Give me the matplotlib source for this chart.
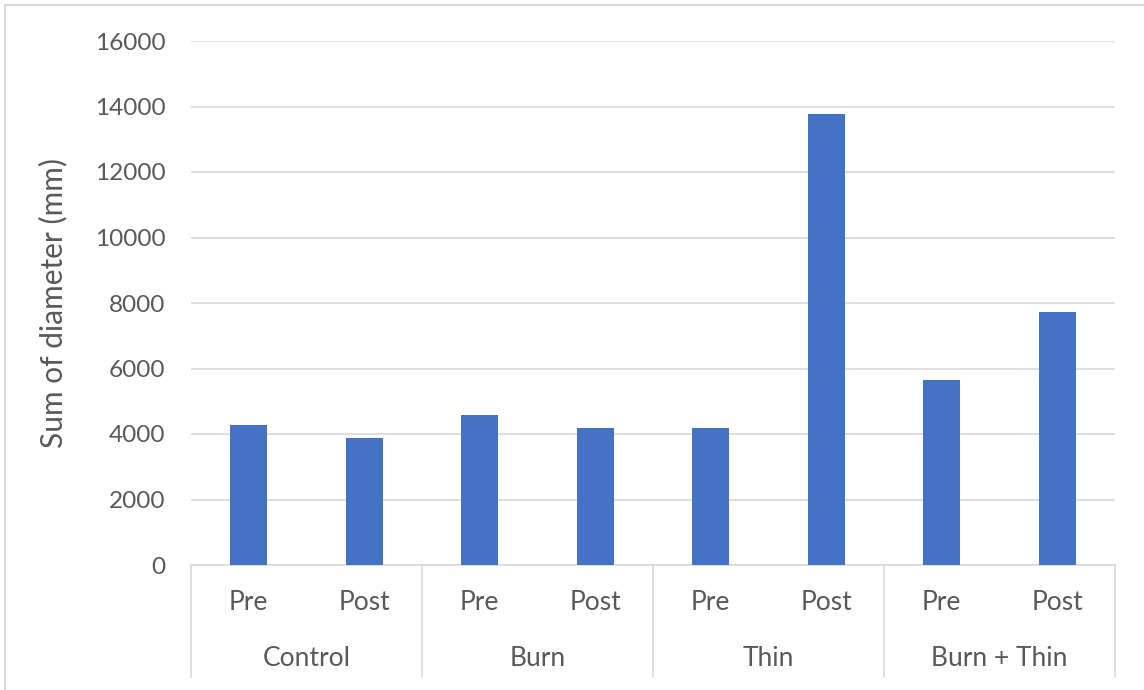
import matplotlib
matplotlib.use("Agg")
import matplotlib.pyplot as plt
from matplotlib.lines import Line2D
import matplotlib.transforms as mtransforms

# Sum of stem diameters by treatment and sampling period
treatments = ["Control", "Burn", "Thin", "Burn + Thin"]
periods = ["Pre", "Post"]
values = [4290, 3890, 4570, 4170, 4170, 13760, 5650, 7740]
y_ticks = [0, 2000, 4000, 6000, 8000, 10000, 12000, 14000, 16000]

BAR_COLOR = "#4472C4"
TEXT_COLOR = "#595959"
GRID_COLOR = "#D9D9D9"

plt.rcParams["font.family"] = ["Lato", "DejaVu Sans"]

W, H = 1144, 690
fig = plt.figure(figsize=(W / 100, H / 100), dpi=100)

# plot area in pixel coordinates
left, right, top, bottom = 191, 1115, 41, 565
ax = fig.add_axes([left / W, (H - bottom) / H, (right - left) / W, (bottom - top) / H])

n = len(values)
x = list(range(n))
ax.bar(x, values, width=0.32, color=BAR_COLOR, zorder=3)

ax.set_xlim(-0.5, n - 0.5)
ax.set_ylim(0, 16000)
ax.set_yticks(y_ticks)
ax.set_yticklabels([str(v) for v in y_ticks], fontsize=17.6, color=TEXT_COLOR)
ax.tick_params(axis="y", length=0, pad=18.5)
ax.set_xticks([])
ax.grid(axis="y", color=GRID_COLOR, linewidth=1.2, zorder=0)
for side in ["top", "right", "left"]:
    ax.spines[side].set_visible(False)
ax.spines["bottom"].set_color(GRID_COLOR)
ax.spines["bottom"].set_linewidth(1.2)

ax.set_ylabel("Sum of diameter (mm)", fontsize=21.5, color=TEXT_COLOR)
ax.yaxis.set_label_coords((67 - left) / (right - left), 0.5)

# two-level category axis
trans = mtransforms.blended_transform_factory(ax.transData, ax.transAxes)
axis_h = bottom - top
y_low = (bottom - 603) / axis_h
y_high = (bottom - 659) / axis_h
y_end = (bottom - 677) / axis_h

for i in range(n):
    ax.text(i, y_low, periods[i % 2], transform=trans, ha="center", va="center",
            fontsize=19, color=TEXT_COLOR)

for g, name in enumerate(treatments):
    ax.text(2 * g + 0.5, y_high, name, transform=trans, ha="center", va="center",
            fontsize=19, color=TEXT_COLOR)

for b in range(len(treatments) + 1):
    xb = 2 * b - 0.5
    ax.add_line(Line2D([xb, xb], [0, y_end], transform=trans, color=GRID_COLOR,
                       linewidth=1.2, clip_on=False))

# chart frame (top and left edges)
fig.add_artist(Line2D([5 / W, 1], [1 - 5 / H, 1 - 5 / H], transform=fig.transFigure,
                      color=GRID_COLOR, linewidth=1.5))
fig.add_artist(Line2D([5 / W, 5 / W], [0, 1 - 5 / H], transform=fig.transFigure,
                      color=GRID_COLOR, linewidth=1.5))

fig.savefig("out.png", dpi=100)
